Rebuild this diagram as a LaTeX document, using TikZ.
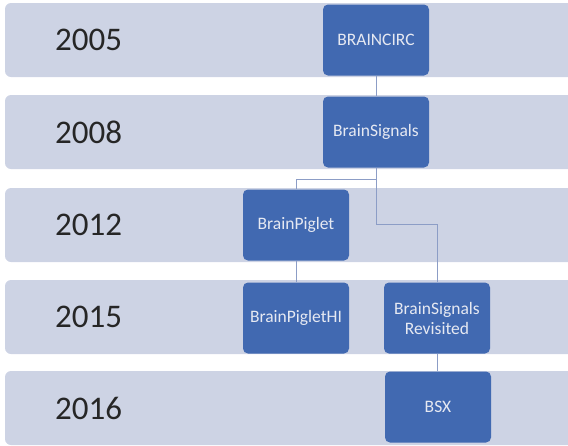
\documentclass[tikz,border=0pt]{standalone}
\usepackage{fontspec}
\setmainfont{Carlito}
\usepackage{tikz}
\usetikzlibrary{positioning}
\usepackage{xcolor}

\definecolor{bandgray}{HTML}{CDD3E4}
\definecolor{boxblue}{HTML}{4169B1}
\definecolor{boxtext}{HTML}{E6E9F2}
\definecolor{linkblue}{HTML}{8C9DC6}

\begin{document}
\begin{tikzpicture}[
  x=1pt, y=-1pt,
  band/.style={fill=bandgray, rounded corners=6pt, minimum width=590pt, minimum height=74pt, inner sep=0pt},
  year/.style={anchor=west, text=black!85, font=\fontsize{33}{38}\selectfont, inner sep=0pt},
  proj/.style={fill=boxblue, rounded corners=5pt, minimum width=106pt, minimum height=71pt, inner sep=2pt, text=boxtext, align=center, font=\fontsize{17.5}{20}\selectfont},
  link/.style={draw=linkblue, line width=0.9pt},
]
\useasboundingbox (0,0) rectangle (568,445);
\clip (0,0) rectangle (568,445);

% ── year bands ──
\foreach \y/\yr [count=\i] in {40/2005, 132/2008, 225/2012, 317/2015, 408/2016}{
  \node[band] (band\i) at (300,\y) {};
  \node[year] (year\i) at (55,\y) {\yr};
}

% ── projects ──
\node[proj] (circ)      at (376, 40)  {BRAINCIRC};
\node[proj] (signals)   at (376,132)  {BrainSignals};
\node[proj] (piglet)    at (296,225)  {BrainPiglet};
\node[proj] (piglethi)  at (296,318)  {BrainPigletHI};
\node[proj] (revisited) at (437,318)  {BrainSignals\\Revisited};
\node[proj] (bsx)       at (438,407)  {BSX};

% ── links ──
\draw[link] (circ) -- (signals);
\draw[link] (signals.south) -- ++(0,12) -| (piglet.north);
\draw[link] (signals.south) -- ++(0,57) -| (revisited.north);
\draw[link] (piglet) -- (piglethi);
\draw[link] (revisited.south) -- (revisited.south |- bsx.north);

\end{tikzpicture}
\end{document}
